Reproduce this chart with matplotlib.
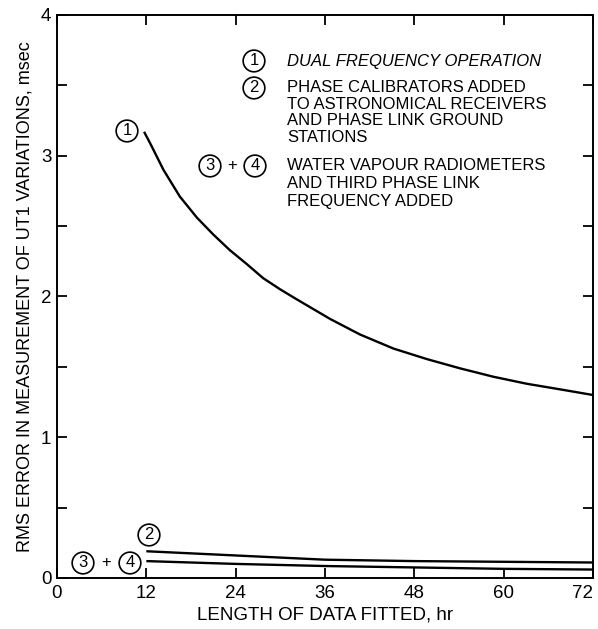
import matplotlib
matplotlib.use("Agg")
import matplotlib.pyplot as plt
from matplotlib import font_manager
from matplotlib.ticker import MultipleLocator

installed = {f.name for f in font_manager.fontManager.ttflist}
narrow = 'Liberation Sans Narrow' in installed
main_font = 'Liberation Sans Narrow' if narrow else 'Liberation Sans'
plt.rcParams['font.family'] = [main_font, 'DejaVu Sans']
scale = 1.2 if narrow else 1.0

# curve 1: dual frequency operation
hours_1 = [11.7, 12.5, 14.3, 16.5, 18.8, 21.0, 23.2, 25.5, 27.7, 30.0,
           32.2, 36.7, 40.7, 45.2, 49.7, 54.1, 58.6, 63.1, 67.6, 72.0]
rms_1 = [3.17, 3.09, 2.90, 2.71, 2.56, 2.44, 2.33, 2.23, 2.13, 2.05,
         1.98, 1.84, 1.73, 1.63, 1.555, 1.49, 1.43, 1.38, 1.34, 1.30]

# curve 2: phase calibrators added
hours_2 = [12, 24, 36, 48, 60, 72]
rms_2 = [0.19, 0.16, 0.13, 0.12, 0.115, 0.11]

# curve 3+4: water vapour radiometers
hours_34 = [12, 24, 36, 48, 60, 72]
rms_34 = [0.12, 0.10, 0.085, 0.075, 0.065, 0.06]

x_ticks = [0, 12, 24, 36, 48, 60, 72]
y_ticks = [0, 1, 2, 3, 4]

note_1 = ["DUAL FREQUENCY OPERATION"]
note_2 = ["PHASE CALIBRATORS ADDED", "TO ASTRONOMICAL RECEIVERS",
          "AND PHASE LINK GROUND", "STATIONS"]
note_34 = ["WATER VAPOUR RADIOMETERS", "AND THIRD PHASE LINK",
           "FREQUENCY ADDED"]

fig = plt.figure(figsize=(5.98, 6.29), dpi=100)
ax = fig.add_axes([0.0953, 0.0811, 0.8963, 0.8951])

for xs, ys in [(hours_1, rms_1), (hours_2, rms_2), (hours_34, rms_34)]:
    ax.plot(xs, ys, color='black', lw=1.7, solid_capstyle='butt')

ax.set_xlim(0, 72)
ax.set_ylim(0, 4)
ax.set_xticks(x_ticks)
ax.set_yticks(y_ticks)
ax.yaxis.set_minor_locator(MultipleLocator(0.5))
ax.tick_params(which='both', direction='in', top=True, right=True,
               length=7.5, width=1.3, labelsize=13.5 * scale)
ax.tick_params(axis='x', pad=5)
ax.tick_params(axis='y', pad=4)
for s in ax.spines.values():
    s.set_linewidth(1.4)
labels = ax.get_xticklabels()
labels[-1].set_horizontalalignment('right')

ax.set_xlabel("LENGTH OF DATA FITTED, hr", fontsize=13.5 * scale, labelpad=3)
ax.set_ylabel("RMS ERROR IN MEASUREMENT OF UT1 VARIATIONS, msec",
              fontsize=13 * scale, labelpad=5)

circ = dict(boxstyle='circle,pad=0.2', fc='white', ec='black', lw=1.2)
fs = 12 * scale


def frac(px, py):
    # reference pixel position to axes fraction
    return (px - 57) / 536, (578 - py) / 563


def circled(px, py, s):
    fx, fy = frac(px, py)
    ax.text(fx, fy, s, transform=ax.transAxes, ha='center', va='center',
            fontsize=12, bbox=circ)


def combo(px3, px4, py):
    circled(px3, py, "3")
    fx, fy = frac((px3 + px4) / 2, py)
    ax.text(fx, fy, "+", transform=ax.transAxes, ha='center',
            va='center', fontsize=12)
    circled(px4, py, "4")


def note(lines, py0, step, **kw):
    for i, line in enumerate(lines):
        fx, fy = frac(287, py0 + i * step)
        ax.text(fx, fy, line, transform=ax.transAxes, va='center',
                fontsize=fs, **kw)


# legend block
circled(254, 61, "1")
circled(254, 88, "2")
combo(210, 255, 166)
note(note_1, 62, 16, style='italic')
note(note_2, 88, 16.5)
note(note_34, 166, 18)

# curve labels
circled(127, 131, "1")
circled(149, 535, "2")
combo(83, 130, 563)

fig.savefig("out.png", dpi=100)
